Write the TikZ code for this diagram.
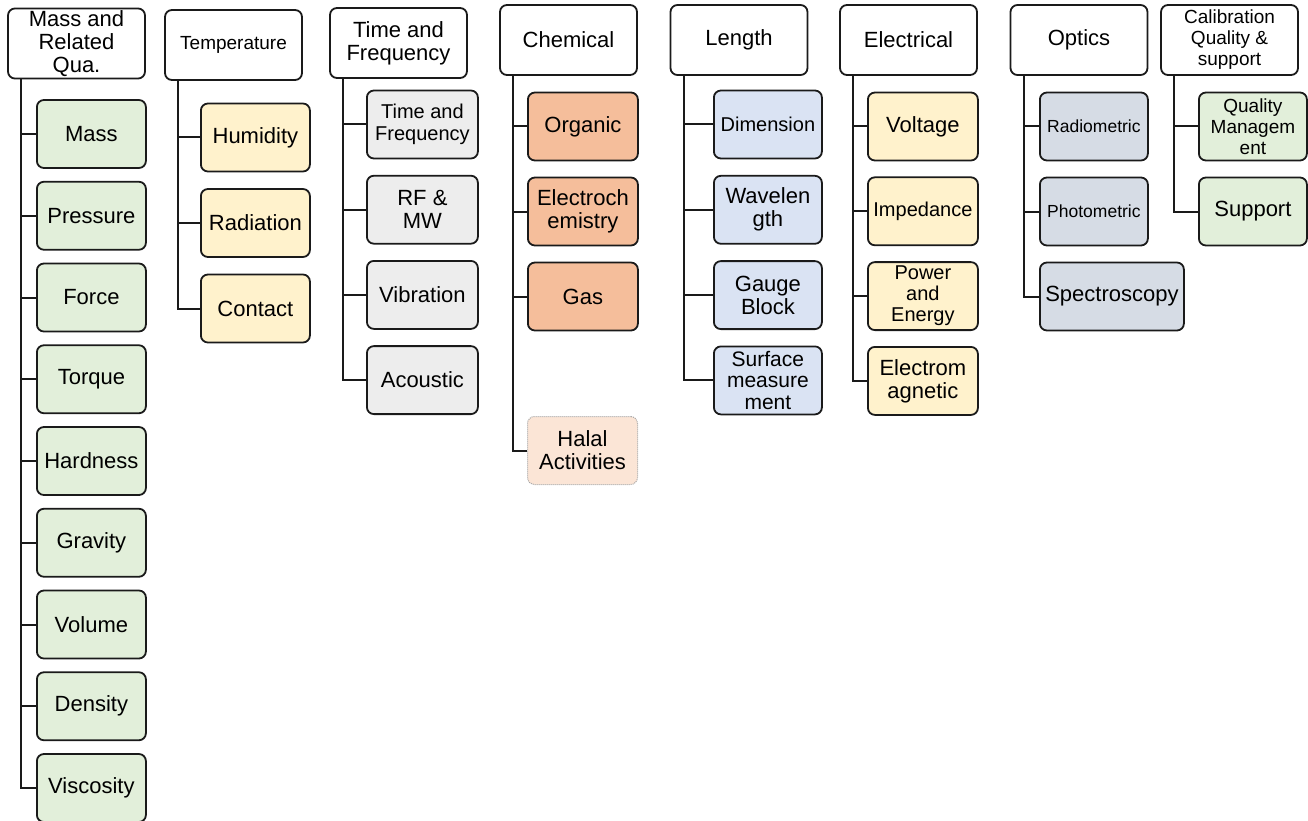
\documentclass[tikz,border=0pt]{standalone}
\usepackage{fontspec}
\setmainfont{Liberation Sans}
\usetikzlibrary{trees}

\definecolor{massgreen}{HTML}{E2EFDA}
\definecolor{tempyellow}{HTML}{FFF2CC}
\definecolor{timegray}{HTML}{EDEDED}
\definecolor{chemorange}{HTML}{F5BE9B}
\definecolor{halalpink}{HTML}{FBE5D6}
\definecolor{lenblue}{HTML}{DAE3F3}
\definecolor{optgray}{HTML}{D6DCE5}
\definecolor{linecol}{HTML}{1A1A1A}

\tikzstyle{head} = [draw=linecol, line width=1.8pt, rounded corners=7pt, fill=white, minimum width=137pt, minimum height=70pt, inner sep=2pt, align=center, font=\fontsize{22}{23}\selectfont]
\tikzstyle{sub} = [draw=linecol, line width=1.8pt, rounded corners=7pt, anchor=west, minimum width=109pt, minimum height=68pt, inner sep=2pt, align=center, font=\fontsize{22}{23}\selectfont]
\tikzstyle{small} = [font=\fontsize{20}{22}\selectfont]
\tikzset{col/.style n args={3}{grow via three points={one child at (#1,#2) and two children at (#1,#2) and (#1,#2-#3)}}}

\begin{document}
\begin{tikzpicture}[x=1pt, y=1pt,
    edge from parent path={([xshift=14pt]\tikzparentnode.south west) |- (\tikzchildnode.west)},
    edge from parent/.style={draw=linecol, line width=2pt}]
  \useasboundingbox (0,0) rectangle (1308,-821);

  % mass and related quantities
  \path[col={-40.5}{-90.5}{81.75}]
    node[head] (massrel) at (76.5,-43.5) {Mass and\\Related\\Qua.}
    child { node[sub, fill=massgreen] (mass) {Mass} edge from parent }
    child { node[sub, fill=massgreen] (pressure) {Pressure} edge from parent }
    child { node[sub, fill=massgreen] (force) {Force} edge from parent }
    child { node[sub, fill=massgreen] (torque) {Torque} edge from parent }
    child { node[sub, fill=massgreen] (hardness) {Hardness} edge from parent }
    child { node[sub, fill=massgreen] (gravity) {Gravity} edge from parent }
    child { node[sub, fill=massgreen] (volume) {Volume} edge from parent }
    child { node[sub, fill=massgreen] (density) {Density} edge from parent }
    child { node[sub, fill=massgreen] (viscosity) {Viscosity} edge from parent };

  % temperature
  \path[col={-33.5}{-92.5}{85.5}]
    node[head, font=\fontsize{19}{21}\selectfont] (temp) at (233.5,-45) {Temperature}
    child { node[sub, fill=tempyellow] (humidity) {Humidity} edge from parent }
    child { node[sub, fill=tempyellow] (radiation) {Radiation} edge from parent }
    child { node[sub, fill=tempyellow] (contact) {Contact} edge from parent };

  % time and frequency
  \path[col={-32.5}{-81.5}{85.2}]
    node[head] (timefreq) at (398.5,-43) {Time and\\Frequency}
    child { node[sub, small, fill=timegray, minimum width=111pt] (tf) {Time and\\Frequency} edge from parent }
    child { node[sub, fill=timegray, minimum width=111pt] (rfmw) {RF \&\\MW} edge from parent }
    child { node[sub, fill=timegray, minimum width=111pt] (vibration) {Vibration} edge from parent }
    child { node[sub, fill=timegray, minimum width=111pt] (acoustic) {Acoustic} edge from parent };

  % chemical
  \path[col={-41.5}{-86.5}{85}]
    node[head] (chem) at (568.5,-40) {Chemical}
    child { node[sub, fill=chemorange, minimum width=110pt] (organic) {Organic} edge from parent }
    child { node[sub, fill=chemorange, minimum width=110pt] (electrochem) {Electroch\\emistry} edge from parent }
    child { node[sub, fill=chemorange, minimum width=110pt] (gas) {Gas} edge from parent }
    child[missing] {}
    child { node[sub, fill=halalpink, draw=gray!70, line width=1pt, densely dotted, minimum width=110pt, yshift=16pt] (halal) {Halal\\Activities} edge from parent };

  % length
  \path[col={-26}{-84.5}{85.3}]
    node[head] (length) at (739,-40) {Length}
    child { node[sub, small, fill=lenblue, minimum width=108pt] (dimension) {Dimension} edge from parent }
    child { node[sub, fill=lenblue, minimum width=108pt] (wavelength) {Wavelen\\gth} edge from parent }
    child { node[sub, fill=lenblue, minimum width=108pt] (gauge) {Gauge\\Block} edge from parent }
    child { node[sub, fill=lenblue, minimum width=108pt, font=\fontsize{21}{21.5}\selectfont] (surface) {Surface\\measure\\ment} edge from parent };

  % electrical
  \path[col={-41.5}{-86.5}{84.8}]
    node[head] (elec) at (908.5,-40) {Electrical}
    child { node[sub, fill=tempyellow, minimum width=110pt] (voltage) {Voltage} edge from parent }
    child { node[sub, small, fill=tempyellow, minimum width=110pt] (impedance) {Impedance} edge from parent }
    child { node[sub, fill=tempyellow, minimum width=110pt, font=\fontsize{20}{21}\selectfont] (power) {Power\\and\\Energy} edge from parent }
    child { node[sub, fill=tempyellow, minimum width=110pt] (electromag) {Electrom\\agnetic} edge from parent };

  % optics
  \path[col={-40}{-86.5}{85}]
    node[head] (optics) at (1079,-40) {Optics}
    child { node[sub, fill=optgray, minimum width=108pt, font=\fontsize{17.5}{20}\selectfont] (radiometric) {Radiometric} edge from parent }
    child { node[sub, fill=optgray, minimum width=108pt, font=\fontsize{17.5}{20}\selectfont] (photometric) {Photometric} edge from parent }
    child { node[sub, fill=optgray, minimum width=144pt] (spectro) {Spectroscopy} edge from parent };

  % calibration quality and support
  \path[col={-31.5}{-86.5}{85}]
    node[head, font=\fontsize{19}{21}\selectfont] (calib) at (1229.5,-40) {Calibration\\Quality \&\\support}
    child { node[sub, fill=massgreen, minimum width=108pt, font=\fontsize{19}{21}\selectfont] (quality) {Quality\\Managem\\ent} edge from parent }
    child { node[sub, fill=massgreen, minimum width=108pt] (support) {Support} edge from parent };
\end{tikzpicture}
\end{document}
